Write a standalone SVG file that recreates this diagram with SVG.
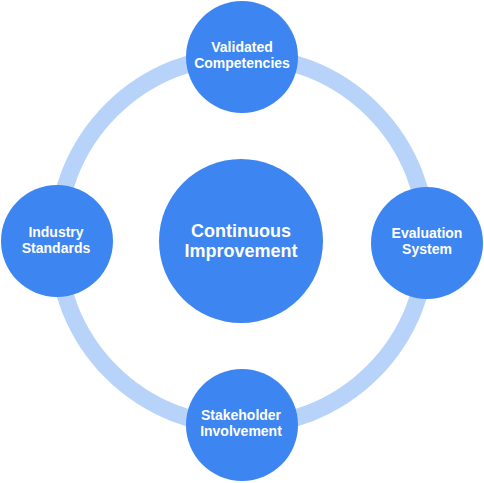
<svg xmlns="http://www.w3.org/2000/svg" width="484" height="483" viewBox="0 0 484 483">
<style>
.node{fill:#3d85f0}
.t{font-family:"Liberation Sans",Arial,sans-serif;font-weight:bold;fill:#ffffff;text-anchor:middle;font-size:14px}
.big{font-size:18px}
</style>
<rect width="484" height="483" fill="#ffffff"/>
<g id="connectors">
<circle cx="242" cy="241" r="185" fill="none" stroke="#b7d3fa" stroke-width="17"/>
</g>
<g id="center">
<circle class="node" cx="241" cy="241" r="82"/>
<text class="t big" x="241" y="237">Continuous</text>
<text class="t big" x="241" y="257">Improvement</text>
</g>
<g id="top">
<circle class="node" cx="242" cy="57" r="56"/>
<text class="t" x="242" y="52">Validated</text>
<text class="t" x="242" y="68">Competencies</text>
</g>
<g id="left">
<circle class="node" cx="57" cy="241" r="56"/>
<text class="t" x="56" y="237">Industry</text>
<text class="t" x="56" y="253">Standards</text>
</g>
<g id="right">
<circle class="node" cx="427" cy="243" r="56"/>
<text class="t" x="427" y="238">Evaluation</text>
<text class="t" x="427" y="254">System</text>
</g>
<g id="bottom">
<circle class="node" cx="242" cy="425" r="56"/>
<text class="t" x="241" y="420">Stakeholder</text>
<text class="t" x="241" y="436">Involvement</text>
</g>
</svg>
